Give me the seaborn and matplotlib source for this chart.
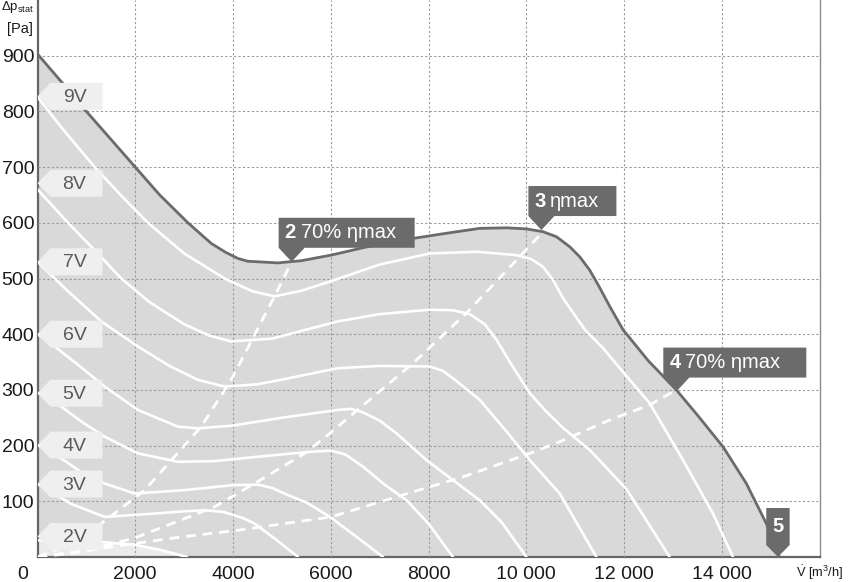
import matplotlib
matplotlib.use("Agg")
import matplotlib.pyplot as plt
import seaborn as sns
from matplotlib.patches import Polygon
from matplotlib.transforms import ScaledTranslation

# --- data ---
# envelope (max curve)
max_x = [0, 500, 1000, 1500, 2000, 2500, 3078, 3555, 3850, 4100, 4300, 4509, 4918, 5400, 6008, 6800,
         7685, 8500, 9049, 9600, 10004, 10344, 10617, 10890, 11094, 11299, 11500, 11708, 11980, 12500,
         13071, 13500, 14025, 14503, 14912, 15150, 15180]
max_y = [903, 852, 800, 750, 700, 650, 600, 563, 547, 536, 531, 530, 528, 532, 542, 558,
         572, 583, 590, 591, 589, 584, 575, 557, 539, 515, 484, 450, 408, 352,
         300, 255, 198, 132, 60, 7, 0]

# speed curves (voltage steps)
v9_x = [0, 500, 1170, 1700, 2260, 3000, 3828, 4400, 4850, 5400, 6000, 7000, 8027, 8981, 9800, 10100,
        10344, 10550, 10750, 11200, 11571, 12000, 12526, 13207, 13820, 14230]
v9_y = [826, 770, 700, 650, 600, 545, 500, 477, 468, 478, 495, 525, 545, 548, 542, 535,
        521, 497, 465, 408, 375, 330, 276, 174, 78, 0]
v8_x = [0, 624, 1200, 1714, 2300, 3000, 3500, 3963, 4800, 6145, 7000, 8027, 8500, 8845, 9150, 9391,
        9700, 10072, 10400, 10750, 11300, 12050, 12935]
v8_y = [660, 600, 548, 500, 457, 418, 398, 387, 392, 423, 436, 444, 443, 436, 418, 390,
        345, 294, 262, 232, 192, 122, 0]
v7_x = [0, 589, 1305, 2055, 2700, 3282, 3828, 4500, 5200, 6145, 7000, 8027, 8300, 8600, 9049, 9600,
        10072, 10685, 11435]
v7_y = [530, 480, 423, 378, 343, 318, 306, 310, 322, 339, 343, 342, 334, 314, 282, 225,
        174, 114, 0]
v6_x = [0, 351, 900, 1374, 2055, 2873, 3282, 4000, 5000, 6145, 6400, 6650, 7000, 7345, 7958, 8500,
        9049, 9500, 10004]
v6_y = [400, 378, 340, 306, 264, 234, 231, 236, 250, 264, 266, 260, 245, 222, 174, 138,
        102, 62, 0]
v5_x = [0, 487, 900, 1374, 2055, 2873, 3600, 4500, 5600, 6000, 6300, 6663, 7100, 7550, 8000, 8500]
v5_y = [295, 270, 243, 216, 186, 171, 172, 180, 189, 191, 184, 162, 130, 102, 60, 0]
v4_x = [0, 487, 900, 1374, 1988, 3000, 4000, 4510, 4800, 5100, 5500, 5982, 6500, 7070]
v4_y = [201, 177, 152, 132, 114, 120, 129, 130, 124, 112, 98, 72, 38, 0]
v3_x = [0, 700, 1374, 2400, 3000, 3420, 3800, 4200, 4441, 4900, 5330]
v3_y = [131, 95, 72, 78, 82, 84, 81, 70, 60, 30, 0]
v2_x = [0, 1000, 2000, 2500, 3060]
v2_y = [30, 29, 22, 13, 0]

# operating point lines (dashed)
op2_x = [0, 700, 1305, 2192, 3350, 3963, 4850, 5190]
op2_y = [0, 25, 60, 120, 234, 318, 468, 528]
op3_x = [0, 1000, 1988, 3623, 4441, 5464, 5982, 7685, 8777, 9800, 10344]
op3_y = [0, 12, 34, 90, 132, 186, 222, 348, 438, 533, 584]
op4_x = [0, 732, 1483, 2941, 4100, 6008, 7345, 8708, 10072, 10685, 11708, 12526, 13071]
op4_y = [0, 7, 18, 36, 48, 72, 108, 144, 186, 207, 246, 273, 300]

# tags on the left
tag_labels = ["9V", "8V", "7V", "6V", "5V", "4V", "3V", "2V"]
tag_y = [827, 671, 530, 400, 294, 201, 131, 37]

# callouts
call_x = [5200, 10310, 13070, 15150]
call_y = [530, 587, 297, 0]
call_num = ["2", "3", "4", "5"]
call_text = ["70% ηmax", "ηmax", "70% ηmax", ""]
call_w = [136, 88, 143, 23]

x_ticks = [2000, 4000, 6000, 8000, 10000, 12000, 14000]
x_tick_labels = ["2000", "4000", "6000", "8000", "10 000", "12 000", "14 000"]
y_ticks = [100, 200, 300, 400, 500, 600, 700, 800, 900]

# --- style ---
sns.set_style("white")
plt.rcParams['font.family'] = ['Liberation Sans', 'DejaVu Sans']
plt.rcParams['mathtext.fontset'] = 'custom'
plt.rcParams['mathtext.rm'] = 'Liberation Sans'
plt.rcParams['mathtext.bf'] = 'Liberation Sans:bold'
plt.rcParams['mathtext.it'] = 'Liberation Sans:italic'

DPI = 100
fig = plt.figure(figsize=(8.48, 5.82), dpi=DPI)
ax = fig.add_axes([37.5 / 848, 25 / 582, 782 / 848, 557 / 582])

FILL = '#d9d9d9'
DARK = '#6b6b6b'
TAG = '#efefef'

ax.fill_between(max_x, max_y, 0, color=FILL, lw=0, zorder=1)
ax.fill_between(v2_x, v2_y, 0, color='#ebebeb', lw=0, zorder=1.2)

for xs, ys in [(v9_x, v9_y), (v8_x, v8_y), (v7_x, v7_y), (v6_x, v6_y),
               (v5_x, v5_y), (v4_x, v4_y), (v3_x, v3_y), (v2_x, v2_y)]:
    sns.lineplot(x=xs, y=ys, ax=ax, color='white', lw=1.9, zorder=3)

for xs, ys in [(op2_x, op2_y), (op3_x, op3_y), (op4_x, op4_y)]:
    sns.lineplot(x=xs, y=ys, ax=ax, color='white', lw=2.0, zorder=3,
                 linestyle=(0, (3.5, 2.5)))

sns.lineplot(x=max_x, y=max_y, ax=ax, color=DARK, lw=2.0, zorder=4)

ax.set_xlim(0, 16000)
ax.set_ylim(0, 1000)
ax.set_xticks(x_ticks)
ax.set_xticklabels(x_tick_labels)
ax.set_yticks(y_ticks)
ax.grid(True, color='#9a9a9a', lw=0.8, linestyle=(0, (2, 2)))
ax.set_axisbelow(False)
ax.tick_params(length=0, labelsize=14, colors='#1a1a1a')
ax.tick_params(axis='x', pad=6.5)
ax.tick_params(axis='y', pad=2.3)
ax.set_xlabel("")
ax.set_ylabel("")
ax.spines['top'].set_visible(False)
for s in ['left', 'bottom']:
    ax.spines[s].set_color('#666666')
    ax.spines[s].set_linewidth(1.6)
ax.spines['right'].set_color('#8a8a8a')
ax.spines['right'].set_linewidth(1.0)

ax.annotate("0", xy=(0, 0), xytext=(-15 * 0.72, -6.5), textcoords='offset points',
            ha='center', va='top', fontsize=14, color='#1a1a1a', annotation_clip=False)


def px_trans(x, y):
    return fig.dpi_scale_trans + ScaledTranslation(x, y, ax.transData)


# voltage tags
for lab, ty in zip(tag_labels, tag_y):
    verts = [(0, 0), (13, 13.5), (65, 13.5), (65, -13.5), (13, -13.5)]
    poly = Polygon([(vx / DPI, vy / DPI) for vx, vy in verts], closed=True,
                   transform=px_trans(0, ty), facecolor=TAG, edgecolor='none', zorder=6,
                   clip_on=False)
    ax.add_patch(poly)
    ax.annotate(lab, xy=(0, ty), xytext=(37 * 0.72, -1 * 0.72), textcoords='offset points',
                ha='center', va='center', fontsize=14, color='#5a5a5a', zorder=7)

# callouts
for cx, cy, num, txt, w in zip(call_x, call_y, call_num, call_text, call_w):
    if txt:
        verts = [(0, 0), (13, 14), (w - 13, 14), (w - 13, 44), (-13, 44), (-13, 14)]
        ty = 29
        ax.annotate(num, xy=(cx, cy), xytext=(-7 * 0.72, ty * 0.72), textcoords='offset points',
                    ha='left', va='center', fontsize=14.5, fontweight='bold', color='white', zorder=8)
        ax.annotate(txt, xy=(cx, cy), xytext=(9 * 0.72, ty * 0.72), textcoords='offset points',
                    ha='left', va='center', fontsize=14.5, color='white', zorder=8)
    else:
        verts = [(0, 0), (11.7, 12), (11.7, 49), (-11.7, 49), (-11.7, 12)]
        ax.annotate(num, xy=(cx, cy), xytext=(0, 30 * 0.72), textcoords='offset points',
                    ha='center', va='center', fontsize=14.5, fontweight='bold', color='white', zorder=8,
                    annotation_clip=False)
    poly = Polygon([(vx / DPI, vy / DPI) for vx, vy in verts], closed=True,
                   transform=px_trans(cx, cy), facecolor=DARK, edgecolor='none', zorder=7,
                   clip_on=False)
    ax.add_patch(poly)

# axis titles
fig.text(796 / 848, 1 - 573 / 582, r"$\dot{\mathrm{V}}$ [m$^3$/h]", ha='left', va='center',
         fontsize=9.3, color='#1a1a1a')
fig.text(34 / 848, 1 - 7 / 582, r"Δp$_{\mathrm{stat}}$", ha='right', va='center',
         fontsize=9.5, color='#1a1a1a')
fig.text(33 / 848, 1 - 28.5 / 582, "[Pa]", ha='right', va='center',
         fontsize=10.5, color='#1a1a1a')

fig.savefig("out.png", dpi=DPI)
